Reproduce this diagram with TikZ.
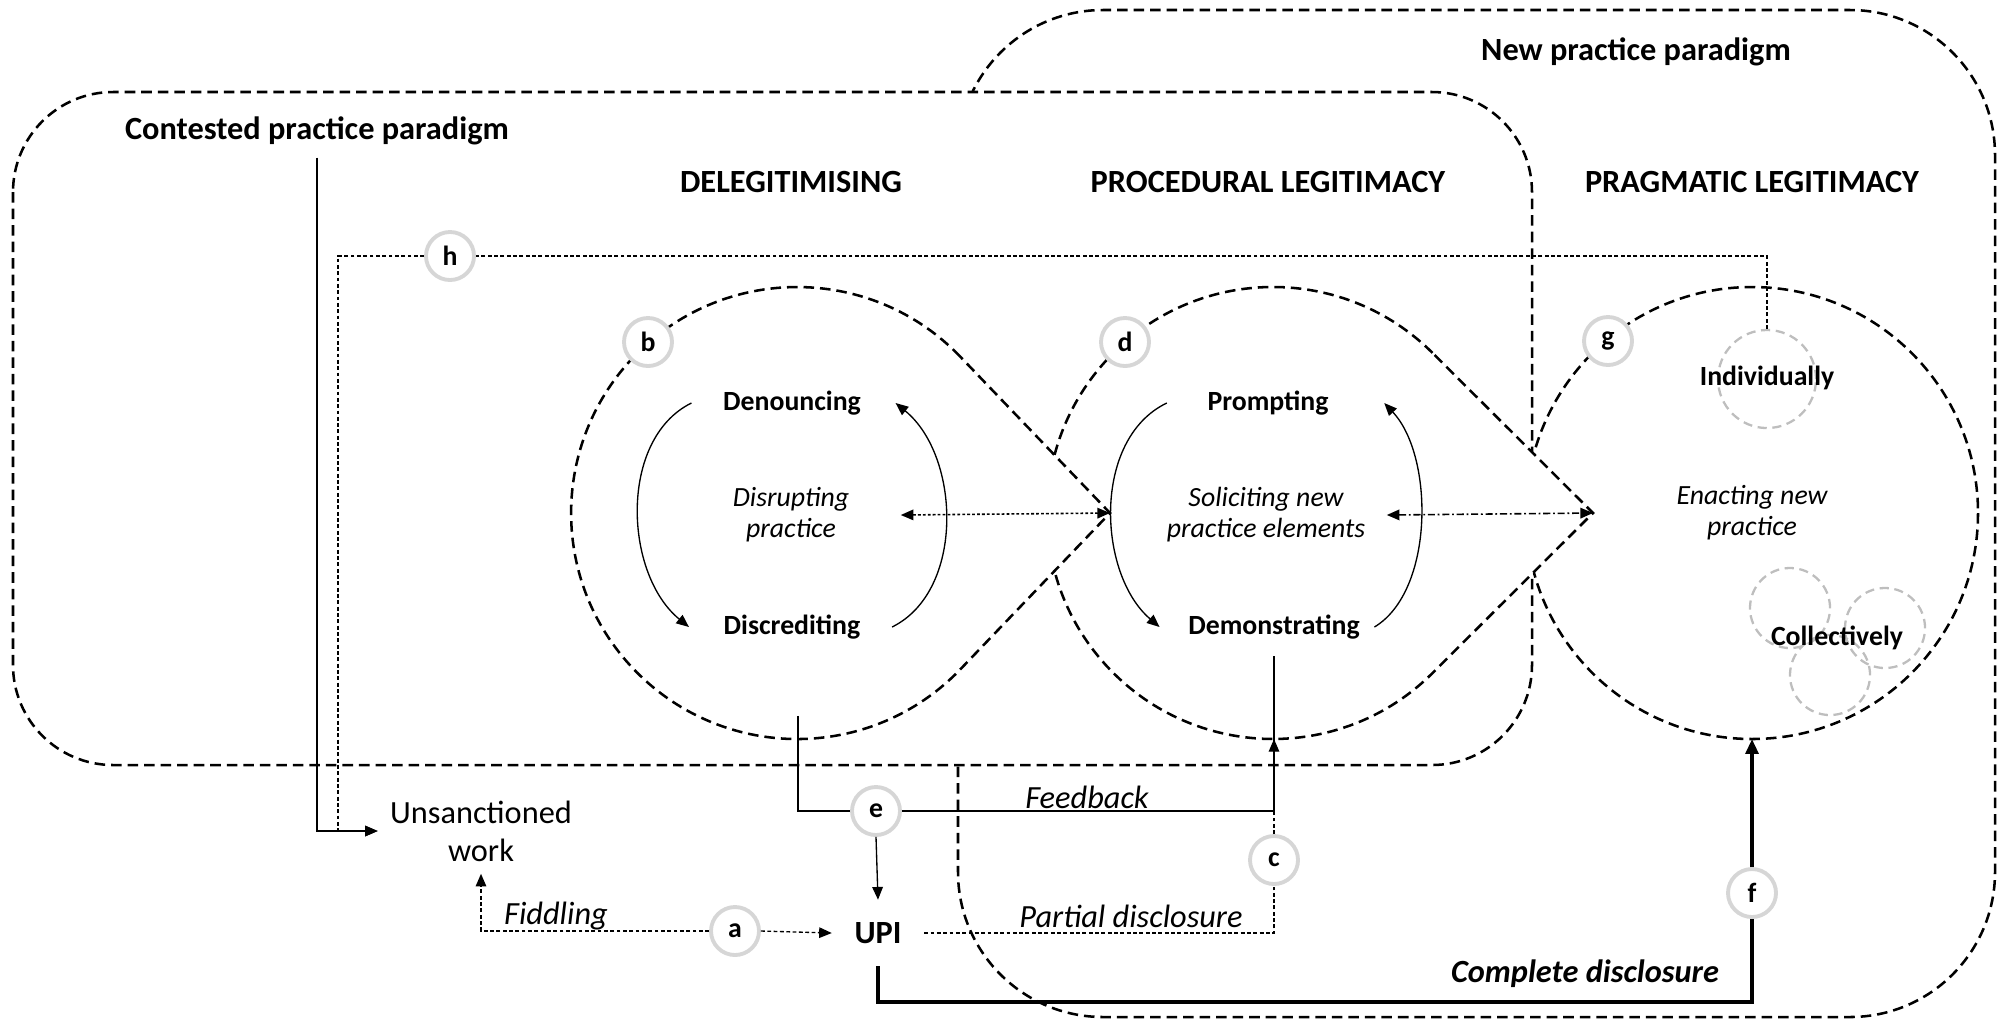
\documentclass[tikz,border=0pt]{standalone}
\usepackage{fontspec}
\setmainfont{Carlito}
\usetikzlibrary{arrows.meta}

\definecolor{ringgray}{RGB}{214,214,214}
\definecolor{crowdgray}{RGB}{190,190,190}

\newcommand{\headsize}{\fontsize{9.2}{10.8}\selectfont}
\newcommand{\smallsize}{\fontsize{7.9}{8.8}\selectfont}
% outlines of the two pointed stages
\newcommand{\dropleft}{(960.2,356.6) arc[start angle=-43.8, end angle=-316.2, radius=226] -- (1110,513) -- cycle}
\newcommand{\dropmid}{(1432.5,352.9) arc[start angle=-45.1, end angle=-314.9, radius=226] -- (1593,513) -- cycle}

\begin{document}
\begin{tikzpicture}[x=0.01cm, y=-0.01cm,
    zone/.style={line width=0.72pt, dash pattern=on 3pt off 1.7pt},
    ring/.style={circle, draw=ringgray, line width=1.1pt, fill=white, minimum size=0.48cm, inner sep=0pt, font=\bfseries\smallsize},
    crowd/.style={circle, draw=crowdgray, line width=0.65pt, dash pattern=on 2.6pt off 1.6pt, minimum size=0.8cm, inner sep=0pt},
    head/.style={font=\bfseries\headsize},
    act/.style={font=\bfseries\smallsize, inner sep=0pt},
    mode/.style={font=\itshape\smallsize, align=center, inner sep=0pt},
    route/.style={font=\itshape\headsize},
    wire/.style={line width=0.38pt},
    fine/.style={line width=0.38pt, dash pattern=on 1.1pt off 0.7pt},
    dotline/.style={line width=0.45pt, dash pattern=on 0.8pt off 0.6pt},
    dashdot/.style={line width=0.45pt, dash pattern=on 2pt off 0.8pt on 0.5pt off 0.8pt},
    heavy/.style={line width=1pt},
    arrowed/.style={-{Triangle[length=3.6pt, width=3pt]}},
    bigarrowed/.style={-{Triangle[length=4.2pt, width=3.6pt]}},
    both/.style={{Triangle[length=3.6pt, width=3pt]}-{Triangle[length=3.6pt, width=3pt]}}]

    \useasboundingbox (0,0) rectangle (1997,1020);

    % Paradigm frames
    \draw[zone, rounded corners=1.45cm] (958,10) rectangle (1995,1017);
    \draw[zone, fill=white, rounded corners=1cm] (13,92) rectangle (1532,765);

    % Stages
    \draw[zone] (1752,513) circle[radius=226];
    \draw[zone, fill=white] \dropmid;
    \draw[zone, fill=white] \dropleft;
    \coordinate (lefttip) at (1110,513);
    \coordinate (midtip) at (1593,513);
    \coordinate (midfoot) at (1274,739);
    \coordinate (rightfoot) at (1752,739);

    % Headings
    \node[head] (newpar) at (1636,52) {New practice paradigm};
    \node[head] (conpar) at (317,131) {Contested practice paradigm};
    \node[head] (delegit) at (791,182) {DELEGITIMISING};
    \node[head] (proced) at (1268,182) {PROCEDURAL LEGITIMACY};
    \node[head] (pragm) at (1752,182) {PRAGMATIC LEGITIMACY};

    % Inside the stages
    \node[act] (den) at (792,403) {Denouncing};
    \node[act] (dis) at (792,627) {Discrediting};
    \node[mode, minimum width=2.18cm] (disrupt) at (791,515) {Disrupting\\practice};
    \node[act] (prompt) at (1268,403) {Prompting};
    \node[act] (demo) at (1274,627) {Demonstrating};
    \node[mode, minimum width=2.4cm] (solicit) at (1266,515) {Soliciting new\\practice elements};
    \node[mode] (enact) at (1752,513) {Enacting new\\practice};
    \node[crowd, minimum size=0.98cm] (indring) at (1767,379) {};
    \node[crowd] (crowd1) at (1790,608) {};
    \node[crowd] (crowd2) at (1885,628) {};
    \node[crowd] (crowd3) at (1830,675) {};
    \node[act] (indiv) at (1767,378) {Individually};
    \node[act] (collect) at (1837,638) {Collectively};

    % Outside the stages
    \node[font=\headsize, align=center] (work) at (481,831) {Unsanctioned\\work};
    \node[font=\bfseries\headsize, inner sep=0.22cm] (upi) at (878,933) {UPI};
    \node[route] (fiddle) at (556,916) {Fiddling};
    \node[route] (feed) at (1087,797) {Feedback};
    \node[route] (partial) at (1131,916) {Partial disclosure};
    \node[route, font=\bfseries\itshape\headsize] (complete) at (1585,974) {Complete disclosure};

    % Cycles inside the stages
    \draw[wire, arrowed] ([xshift=-0.31cm]den.west) .. controls +(-73,36) and +(-65,-53) .. ([xshift=-0.34cm]dis.west);
    \draw[wire, arrowed] ([xshift=0.31cm]dis.east) .. controls +(73,-36) and +(65,53) .. ([xshift=0.34cm]den.east);
    \draw[wire, arrowed] ([xshift=-0.40cm]prompt.west) .. controls +(-75,36) and +(-62,-53) .. ([xshift=-0.28cm]demo.west);
    \draw[wire, arrowed] ([xshift=0.14cm]demo.east) .. controls +(60,-36) and +(50,53) .. ([xshift=0.55cm]prompt.east);
    \draw[dotline, both] (disrupt.east) -- (lefttip);
    \draw[dashdot, both] (solicit.east) -- (midtip);

    % Routes
    \coordinate (hbend) at (338,256);
    \coordinate (floor) at (878,1002);
    \node[ring] (a) at (735,931) {a};
    \node[ring] (b) at (648,342) {b};
    \node[ring] (c) at (1274,860) {c};
    \node[ring] (d) at (1125,342) {d};
    \node[ring] (e) at (876,811) {e};
    \node[ring] (f) at (1752,893) {f};
    \node[ring] (g) at (1608,341) {g};
    \node[ring] (h) at (450,256) {h};

    \draw[wire, arrowed] (conpar.south) |- (work.west);
    \draw[fine] (indring.north) |- (h.east);
    \draw[fine, arrowed] (h.west) -- (hbend) |- (work.west);
    \draw[fine, arrowed] (a.west) -| (work.south);
    \draw[fine, arrowed] (a.east) -- (upi.west);
    \draw[wire] ([shift={(6,76)}]dis.south) |- (e.west);
    \draw[wire] (e.east) -| ([yshift=-0.16cm]demo.south);
    \draw[wire, arrowed] (e.south) -- (upi.north);
    \draw[fine] (upi.east) -| (c.south);
    \draw[fine, arrowed] (c.north) -- (midfoot);
    \draw[heavy] (upi.south) -- (floor) -| (f.south);
    \draw[heavy, bigarrowed] (f.north) -- (rightfoot);
\end{tikzpicture}
\end{document}
